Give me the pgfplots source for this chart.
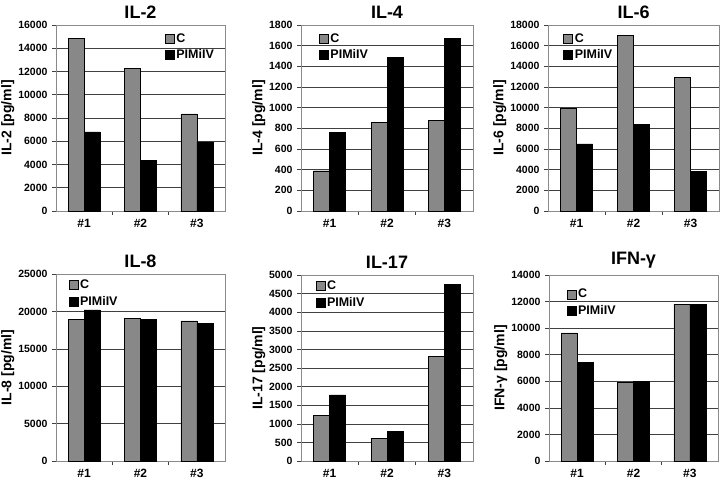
\documentclass[border=0pt]{standalone}
\usepackage{fontspec}
\setmainfont{Liberation Sans}
\usepackage{pgfplots}
\pgfplotsset{compat=1.18}
\definecolor{barC}{HTML}{888888}
\definecolor{gridc}{HTML}{404040}
\definecolor{axc}{HTML}{8A8A8A}
\pgfplotsset{
  panel/.style={
    scale only axis,
    anchor=south west,
    ybar=0pt,
    bar width=16pt,
    xmin=0.5, xmax=3.5,
    xtick={1,2,3},
    xticklabels={\#1,\#2,\#3},
    minor xtick={1.5,2.5},
    major x tick style={draw=none},
    minor x tick style={draw=gridc, line width=0.5pt},
    minor tick length=4pt,
    major tick length=4pt,
    tick align=outside,
    xtick pos=bottom, ytick pos=left,
    ymin=0,
    ymajorgrids,
    major grid style={gridc, line width=0.5pt},
    axis line style={axc, line width=0.8pt},
    y tick style={gridc, line width=0.5pt},
    scaled y ticks=false,
    /pgf/number format/assume math mode=true,
    /pgf/number format/set thousands separator={},
    /pgf/number format/fixed,
    yticklabel style={font=\fontsize{10.5}{12}\selectfont\bfseries, xshift=-1pt},
    xticklabel style={font=\fontsize{12}{14}\selectfont\bfseries, yshift=-1pt},
    ylabel style={font=\fontsize{14}{16}\selectfont\bfseries, yshift=-3pt},
    title style={font=\fontsize{18}{20}\selectfont\bfseries, yshift=-3pt},
    legend style={draw=none, fill=none, anchor=north west,
      font=\fontsize{12.5}{14}\selectfont\bfseries,
      row sep=2pt, inner sep=0pt, outer sep=0pt,
      legend cell align=left},
    legend image code/.code={\draw[#1, draw=black, line width=0.4pt] (0pt,-4.5pt) rectangle (9pt,4.5pt);},
    cycle list={
      {fill=barC, draw=black, line width=0.4pt},
      {fill=black, draw=black, line width=0.4pt}
    },
    clip=false,
  }
}
\begin{document}
\begin{tikzpicture}
\path[use as bounding box] (0,0) rectangle (720pt,480pt);

% IL-2
\begin{axis}[panel, at={(56pt,269pt)}, width=169pt, height=186pt,
  ymax=16000, ytick distance=2000, title={IL-2}, ylabel={IL-2 [pg/ml]},
  legend style={at={(0.645,0.965)}}]
\addplot coordinates {(1,14850) (2,12250) (3,8350)};
\addplot coordinates {(1,6800) (2,4350) (3,5950)};
\legend{C,PIMiIV}
\end{axis}

% IL-4
\begin{axis}[panel, at={(301pt,269pt)}, width=172pt, height=186pt,
  ymax=1800, ytick distance=200, title={IL-4}, ylabel={IL-4 [pg/ml]},
  legend style={at={(0.105,0.965)}}]
\addplot coordinates {(1,390) (2,855) (3,880)};
\addplot coordinates {(1,760) (2,1485) (3,1670)};
\legend{C,PIMiIV}
\end{axis}

% IL-6
\begin{axis}[panel, at={(548pt,269pt)}, width=171pt, height=186pt,
  ymax=18000, ytick distance=2000, title={IL-6}, ylabel={IL-6 [pg/ml]},
  legend style={at={(0.09,0.965)}}]
\addplot coordinates {(1,9950) (2,17000) (3,12900)};
\addplot coordinates {(1,6500) (2,8400) (3,3850)};
\legend{C,PIMiIV}
\end{axis}

% IL-8
\begin{axis}[panel, at={(56pt,19pt)}, width=169pt, height=187pt,
  ymax=25000, ytick distance=5000, title={IL-8}, ylabel={IL-8 [pg/ml]},
  legend style={at={(0.075,0.98)}}]
\addplot coordinates {(1,18950) (2,19050) (3,18750)};
\addplot coordinates {(1,20200) (2,18950) (3,18400)};
\legend{C,PIMiIV}
\end{axis}

% IL-17
\begin{axis}[panel, at={(301pt,19pt)}, width=172pt, height=186pt,
  ymax=5000, ytick distance=500, title={IL-17}, ylabel={IL-17 [pg/ml]},
  legend style={at={(0.085,0.98)}}]
\addplot coordinates {(1,1220) (2,610) (3,2820)};
\addplot coordinates {(1,1780) (2,800) (3,4750)};
\legend{C,PIMiIV}
\end{axis}

% IFN-gamma
\begin{axis}[panel, at={(549pt,19pt)}, width=169pt, height=186pt,
  ymax=14000, ytick distance=2000, title={IFN-γ}, ylabel={IFN-γ [pg/ml]},
  legend style={at={(0.105,0.935)}}]
\addplot coordinates {(1,9650) (2,5950) (3,11800)};
\addplot coordinates {(1,7450) (2,6000) (3,11800)};
\legend{C,PIMiIV}
\end{axis}
\end{tikzpicture}
\end{document}
